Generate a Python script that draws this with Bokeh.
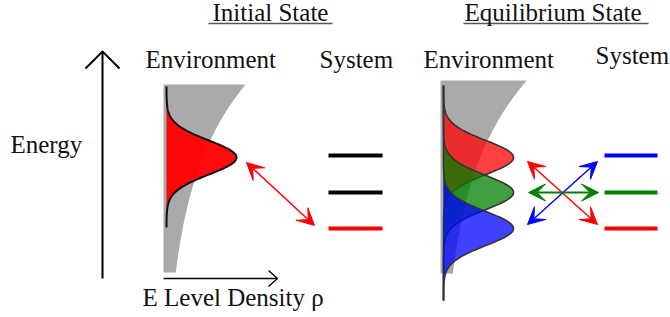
import numpy as np
from bokeh.plotting import figure
from bokeh.models import Range1d, Label, Arrow, VeeHead
from bokeh.embed import file_html
from bokeh.resources import INLINE

# ---- data (diagram content) ----
panel_titles = ["Initial State", "Equilibrium State"]
column_labels = ["Environment", "System", "Environment", "System"]
axis_labels = ["Energy", "E Level Density \u03c1"]
level_rows = [155, 192, 228]                 # system energy levels (top to bottom)
left_level_colors = ["black", "black", "red"]
right_level_colors = ["blue", "green", "red"]
left_peak_rows = [157]                       # environment population peaks
left_peak_colors = ["red"]
right_peak_rows = [157, 192, 228]
right_peak_colors = ["red", "green", "blue"]
peak_height = 70
peak_sigma = 17
dos_base_width = 12.3
dos_growth = 0.0101

FONT = "Liberation Serif"
FS = "25px"
TEXT_DY = -8  # renderer places alphabetic baseline slightly low

p = figure(width=670, height=317, x_range=Range1d(0, 670), y_range=Range1d(317, 0),
           output_backend="svg", toolbar_location=None, min_border=0,
           x_axis_type=None, y_axis_type=None)
p.grid.visible = False
p.outline_line_color = None
p.background_fill_color = "white"
p.border_fill_color = "white"


def dos_patch(x0, top, bottom):
    ys = np.linspace(top, bottom, 120)
    xs = x0 + dos_base_width * np.exp(dos_growth * (bottom - ys))
    px = np.concatenate([[x0], xs, [x0]])
    py = np.concatenate([[top], ys, [bottom]])
    p.patch(px, py, fill_color="#aaaaaa", line_color=None)


def gauss(base, center, top, bottom, color, alpha, outline, lw):
    ys = np.linspace(top, bottom, 300)
    xs = base + peak_height * np.exp(-(ys - center) ** 2 / (2 * peak_sigma ** 2))
    px = np.concatenate([[base], xs, [base]])
    py = np.concatenate([[top], ys, [bottom]])
    p.patch(px, py, fill_color=color, fill_alpha=alpha, line_color=None)
    p.line(xs, ys, line_color=outline, line_width=lw)


# density of states wedges
dos_patch(163, 84, 272)
dos_patch(440, 80, 273)

# environment populations
for c, col in zip(left_peak_rows, left_peak_colors):
    gauss(166, c, 86, 227, col, 0.95, "#111111", 2)
for c, col in zip(right_peak_rows, right_peak_colors):
    gauss(443, c, 85, 300, col, 0.75, "#333333", 1.6)

# system levels
for r, col in zip(level_rows, left_level_colors):
    p.segment(x0=328, x1=382, y0=r, y1=r, line_color=col, line_width=4)
for r, col in zip(level_rows, right_level_colors):
    p.segment(x0=604, x1=657, y0=r, y1=r, line_color=col, line_width=4)


def dbl_arrow(x0, y0, x1, y1, col, lw=1.5):
    p.add_layout(Arrow(start=VeeHead(size=17, fill_color=col, line_color=col, line_width=1),
                       end=VeeHead(size=17, fill_color=col, line_color=col, line_width=1),
                       x_start=x0, y_start=y0, x_end=x1, y_end=y1,
                       line_color=col, line_width=lw))


dbl_arrow(246, 162, 314, 225, "red")
dbl_arrow(527, 161, 597, 224, "red")
dbl_arrow(527, 224, 597, 161, "blue")
dbl_arrow(528, 192, 598, 192, "green", 1.8)

# energy axis (vertical, open head)
p.line([102, 102], [278, 51], line_color="black", line_width=2)
p.line([85, 102, 119], [68, 51, 68], line_color="black", line_width=2)
# density axis (horizontal, open head)
p.line([163, 277], [278, 278], line_color="black", line_width=1.3)
p.line([268, 277, 268], [270, 278, 286], line_color="black", line_width=1.3)


# texts
def lab(x, y, t):
    p.add_layout(Label(x=x, y=y + TEXT_DY, text=t, text_font=FONT, text_font_size=FS,
                       text_color="#111111", text_baseline="alphabetic"))


lab(212, 20, panel_titles[0])
lab(464, 20, panel_titles[1])
p.segment(x0=[208, 463], x1=[332, 648], y0=[23, 23], y1=[23, 23],
          line_color="#555555", line_width=1.5)
lab(145, 67, column_labels[0])
lab(319, 67, column_labels[1])
lab(423, 67, column_labels[2])
lab(595, 63, column_labels[3])
lab(10, 152, axis_labels[0])
lab(142, 305, axis_labels[1])

open("out.html", "w").write(file_html(p, INLINE))
